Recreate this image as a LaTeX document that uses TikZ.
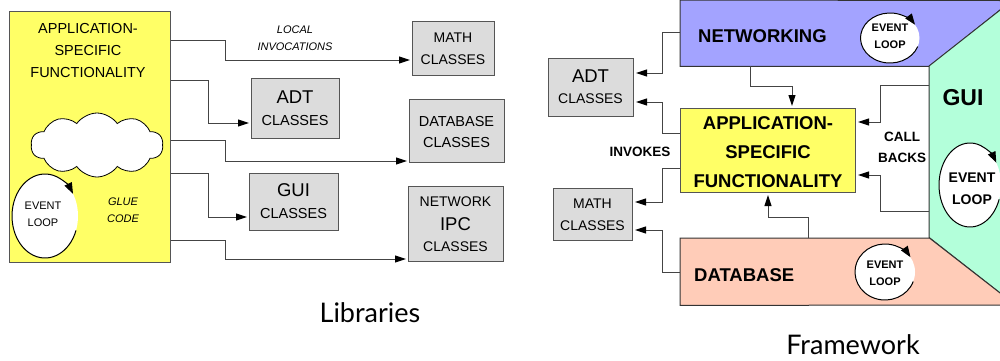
\documentclass[tikz,border=0pt]{standalone}
\usepackage{fontspec}
\setmainfont{Liberation Sans}
\newfontfamily\titlefont{Lato}
\usetikzlibrary{arrows.meta,shapes.symbols,shapes.geometric}

\definecolor{appyellow}{HTML}{FFFF66}
\definecolor{libgray}{HTML}{DCDCDC}
\definecolor{boxedge}{HTML}{555555}
\definecolor{wire}{HTML}{444444}
\definecolor{netblue}{HTML}{A3A3FF}
\definecolor{guigreen}{HTML}{B3FFDA}
\definecolor{dbsalmon}{HTML}{FFCCB8}

\newcommand\setsz[1]{\fontsize{#1}{#1}\selectfont}

\begin{document}
\begin{tikzpicture}[x=1pt,y=-1pt,
  libbox/.style={draw=boxedge, fill=libgray, line width=1.2pt, inner sep=0pt, anchor=north west},
  conn/.style={draw=wire, line width=1pt, shorten >=2pt,
    -{Triangle[length=11pt,width=7pt,color=black]}},
  loopline/.style={draw=black, line width=1pt,
    -{Triangle[length=11pt,width=8pt]}},
  region/.style={inner sep=0pt, anchor=north west},
  lbl/.style={inner sep=0pt}]
\useasboundingbox (0,0) rectangle (1000,360);

% ---------------- Libraries ----------------
\node[draw=boxedge, line width=0.8pt, fill=appyellow, region,
      minimum width=161pt, minimum height=251pt] (lapp) at (9,11) {};
\node[lbl, font=\setsz{14.5}] at (88,29) {APPLICATION-};
\node[lbl, font=\setsz{14.5}] at (88,51) {SPECIFIC};
\node[lbl, font=\setsz{14.5}] at (88,73) {FUNCTIONALITY};

\node[cloud, cloud puffs=10, cloud puff arc=110, aspect=2, draw=black,
      line width=0.8pt, fill=white, minimum width=132pt, minimum height=64pt,
      inner sep=0pt] (glue) at (97,145) {};

\node[ellipse, fill=white, minimum width=66pt, minimum height=84pt,
      inner sep=0pt] (lloop) at (45,216) {};
\draw[loopline] (45,216) ++(20:33 and 42)
  arc[start angle=20, end angle=328, x radius=33, y radius=42];
\node[lbl, font=\setsz{11}] at (43,206) {EVENT};
\node[lbl, font=\setsz{11}] at (43,223) {LOOP};

\node[lbl, font=\itshape\setsz{11}] at (123,202) {GLUE};
\node[lbl, font=\itshape\setsz{11}] at (123,219) {CODE};

\node[libbox, minimum width=82pt, minimum height=54pt] (lmath) at (412,21) {};
\node[lbl, font=\setsz{14}] at (453,38) {MATH};
\node[lbl, font=\setsz{14}] at (453,60) {CLASSES};

\node[libbox, minimum width=88pt, minimum height=60pt] (ladt) at (251,78) {};
\node[lbl, font=\setsz{18.5}] at (295,97) {ADT};
\node[lbl, font=\setsz{14.5}] at (295,121) {CLASSES};

\node[libbox, minimum width=95pt, minimum height=63pt] (ldb) at (409,99) {};
\node[lbl, font=\setsz{14.5}] at (456.5,122) {DATABASE};
\node[lbl, font=\setsz{14.5}] at (456.5,143) {CLASSES};

\node[libbox, minimum width=89pt, minimum height=57pt] (lgui) at (249,173) {};
\node[lbl, font=\setsz{18.5}] at (293.5,190) {GUI};
\node[lbl, font=\setsz{14.5}] at (293.5,213) {CLASSES};

\node[libbox, minimum width=95pt, minimum height=75pt] (lnet) at (408,186) {};
\node[lbl, font=\setsz{14}] at (455.5,202) {NETWORK};
\node[lbl, font=\setsz{18.5}] at (455.5,224) {IPC};
\node[lbl, font=\setsz{14}] at (455.5,247) {CLASSES};

\node[lbl, font=\itshape\setsz{11}] at (295,30) {LOCAL};
\node[lbl, font=\itshape\setsz{11}] at (295,47) {INVOCATIONS};

\draw[conn] (lapp.east |- 0,40)  -| (225,60)  -- (lmath.west |- 0,60);
\draw[conn] (lapp.east |- 0,80)  -| (208,123) -- (ladt.west |- 0,123);
\draw[conn] (lapp.east |- 0,140) -| (225,161) -- (ldb.west |- 0,161);
\draw[conn] (lapp.east |- 0,173) -| (208,217) -- (lgui.west |- 0,217);
\draw[conn] (lapp.east |- 0,240) -| (225,259) -- (lnet.west |- 0,259);

\node[lbl, font=\titlefont\setsz{27}] at (370,313) {Libraries};

% ---------------- Framework ----------------
\node[region, minimum width=249pt, minimum height=66pt] (net) at (680,0) {};
\node[region, minimum width=249pt, minimum height=67pt] (db) at (680,238) {};
\node[region, minimum width=72pt, minimum height=171pt] (gui) at (929,66) {};

\draw[draw=black!80, line width=1pt, fill=netblue]
  (net.north west) -- (1002,0.5) -- (1002,8.5) -- (net.south east) -- (net.south west) -- cycle;
\draw[draw=black!80, line width=1pt, fill=guigreen]
  (gui.north west) -- (1002,8.5) -- (1002,294.5) -- (gui.south west) -- cycle;
\draw[draw=black!80, line width=1pt, fill=dbsalmon]
  (db.north west) -- (db.north east) -- (1002,294.5) -- (1002,305) -- (db.south west) -- cycle;

\node[lbl, anchor=west, font=\bfseries\setsz{18.5}] at (698,36) {NETWORKING};
\node[lbl, anchor=west, font=\bfseries\setsz{18.5}] at (694,275) {DATABASE};
\node[lbl, font=\bfseries\setsz{23}] at (963,98) {GUI};

\node[draw=boxedge, line width=1pt, fill=appyellow, region,
      minimum width=175pt, minimum height=84pt] (rapp) at (680,108) {};
\node[lbl, font=\bfseries\setsz{18.5}] at (768,123) {APPLICATION-};
\node[lbl, font=\bfseries\setsz{18.5}] at (768,152) {SPECIFIC};
\node[lbl, font=\bfseries\setsz{18.5}] at (768,181) {FUNCTIONALITY};

\node[libbox, line width=1pt, minimum width=85pt, minimum height=58pt] (radt) at (548,58) {};
\node[lbl, font=\setsz{18.5}] at (590.5,76) {ADT};
\node[lbl, font=\setsz{14}] at (590.5,99) {CLASSES};

\node[libbox, line width=1pt, minimum width=79pt, minimum height=52pt] (rmath) at (553,188) {};
\node[lbl, font=\setsz{14}] at (592.5,204) {MATH};
\node[lbl, font=\setsz{14}] at (592.5,226) {CLASSES};

% event loops of the frameworks
\node[ellipse, fill=white, minimum width=59pt, minimum height=50pt, inner sep=0pt] (nloop) at (890,38) {};
\draw[loopline] (890,38) ++(20:29.5 and 25)
  arc[start angle=20, end angle=328, x radius=29.5, y radius=25];
\node[lbl, font=\bfseries\setsz{11}] at (890,28) {EVENT};
\node[lbl, font=\bfseries\setsz{11}] at (890,45) {LOOP};

\node[ellipse, fill=white, minimum width=62pt, minimum height=84pt, inner sep=0pt] (gloop) at (970,185) {};
\draw[loopline] (970,185) ++(20:31 and 42)
  arc[start angle=20, end angle=328, x radius=31, y radius=42];
\node[lbl, font=\bfseries\setsz{14}] at (972,178) {EVENT};
\node[lbl, font=\bfseries\setsz{14}] at (972,200) {LOOP};

\node[ellipse, fill=white, minimum width=60pt, minimum height=56pt, inner sep=0pt] (dloop) at (885,272) {};
\draw[loopline] (885,272) ++(20:30 and 28)
  arc[start angle=20, end angle=328, x radius=30, y radius=28];
\node[lbl, font=\bfseries\setsz{11}] at (885,265) {EVENT};
\node[lbl, font=\bfseries\setsz{11}] at (885,282) {LOOP};

\node[lbl, font=\bfseries\setsz{13.5}] at (640,152) {INVOKES};
\node[lbl, font=\bfseries\setsz{13.5}] at (902,137) {CALL};
\node[lbl, font=\bfseries\setsz{13.5}] at (902,158) {BACKS};

\draw[conn] (net.west |- 0,32)   -| (662,73)  -- (radt.east |- 0,73);
\draw[conn] (rapp.west |- 0,133) -| (662,102) -- (radt.east |- 0,102);
\draw[conn] (rapp.west |- 0,168) -| (662,202) -- (rmath.east |- 0,202);
\draw[conn] (db.west |- 0,272)   -| (662,230) -- (rmath.east |- 0,230);
\draw[conn] (net.south -| 750,0) |- (792,86)  -- (rapp.north -| 792,0);
\draw[conn] (db.north -| 808,0)  |- (768,217) -- (rapp.south -| 768,0);
\draw[conn] (gui.west |- 0,85)   -| (880,122) -- (rapp.east |- 0,122);
\draw[conn] (gui.west |- 0,211)  -| (880,175) -- (rapp.east |- 0,175);

\node[lbl, font=\titlefont\setsz{27}] at (853,345) {Framework};
\end{tikzpicture}
\end{document}
